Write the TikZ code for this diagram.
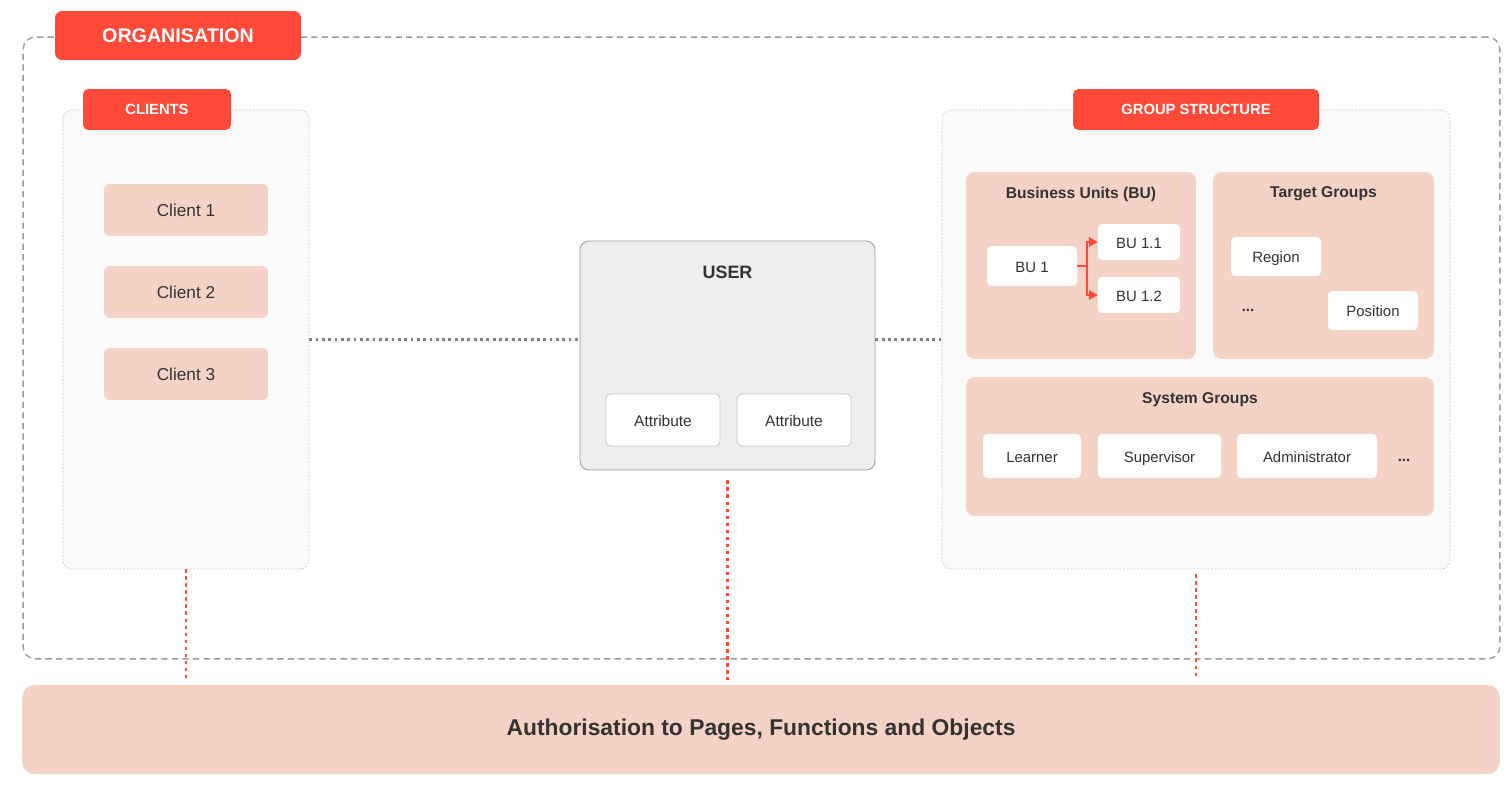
\documentclass[tikz,border=0pt]{standalone}
\usepackage{fontspec}
\setmainfont{Liberation Sans}
\usetikzlibrary{arrows.meta}
\definecolor{orgred}{HTML}{FF4A3A}
\definecolor{blush}{HTML}{F5D2C6}
\definecolor{ink}{HTML}{333333}
\definecolor{userfill}{HTML}{EEEEEE}
\definecolor{panelfill}{HTML}{FAFAFA}
\definecolor{framegray}{HTML}{9A9A9A}
\definecolor{panelgray}{HTML}{C8C8C8}
\definecolor{linkgray}{HTML}{808080}
\tikzset{
  tag/.style={fill=orgred, rounded corners=3pt, text=white, font=\bfseries\fontsize{8.4}{10}\selectfont, minimum height=0.82cm, inner sep=0pt},
  panel/.style={fill=panelfill, draw=panelgray, line width=0.4pt, dash pattern=on 1pt off 1pt, rounded corners=5pt, minimum height=9.18cm, inner sep=0pt},
  subpanel/.style={fill=blush, rounded corners=5pt, inner sep=0pt},
  pinkbox/.style={fill=blush, rounded corners=3pt, text=ink, font=\fontsize{9.8}{12}\selectfont, minimum width=3.28cm, minimum height=1.04cm, inner sep=0pt, text height=1.6ex, text depth=0.3ex},
  whitebox/.style={fill=white, rounded corners=2.5pt, text=ink, font=\fontsize{8.5}{10}\selectfont, inner sep=0pt, text height=1.6ex, text depth=0.3ex},
  title/.style={text=ink, font=\bfseries\fontsize{8.9}{11}\selectfont},
  link/.style={draw=linkgray, line width=1.2pt, dash pattern=on 1.6pt off 2pt},
  redlink/.style={draw=orgred, line width=1.6pt, dash pattern=on 2pt off 2pt},
  buarrow/.style={orgred, line width=1.1pt, -{Triangle[length=5pt,width=5.5pt]}}
}
\begin{document}
\begin{tikzpicture}[x=0.02cm, y=-0.02cm]
\useasboundingbox (0,0) rectangle (1510,787);

\node[draw=framegray, line width=0.8pt, dash pattern=on 3.5pt off 2.5pt, rounded corners=7pt, minimum width=29.54cm, minimum height=12.44cm, inner sep=0pt] (org) at (761.5,348) {};
\node[fill=orgred, rounded corners=4pt, text=white, font=\bfseries\fontsize{11.2}{13}\selectfont, minimum width=4.92cm, minimum height=0.98cm, inner sep=0pt] (orglabel) at (178,35.5) {ORGANISATION};

\node[panel, minimum width=4.92cm] (clients) at (186,339.5) {};
\node[tag, minimum width=2.96cm] (clientstag) at (157,109.5) {CLIENTS};
\node[pinkbox] (client1) at (186,210) {Client 1};
\node[pinkbox] (client2) at (186,292) {Client 2};
\node[pinkbox] (client3) at (186,374) {Client 3};

\node[fill=userfill, draw=framegray, line width=0.5pt, rounded corners=5pt, minimum width=5.9cm, minimum height=4.58cm, inner sep=0pt] (user) at (727.5,355.5) {};
\node[text=ink, font=\bfseries\fontsize{10.2}{12}\selectfont] (usertitle) at (727.5,272) {USER};
\node[whitebox, draw=panelgray, line width=0.5pt, font=\fontsize{8.8}{10}\selectfont, minimum width=2.28cm, minimum height=1.04cm] (attr1) at (663,420) {Attribute};
\node[whitebox, draw=panelgray, line width=0.5pt, font=\fontsize{8.8}{10}\selectfont, minimum width=2.28cm, minimum height=1.04cm] (attr2) at (794,420) {Attribute};

\node[panel, minimum width=10.16cm] (group) at (1196,339.5) {};
\node[tag, minimum width=4.92cm] (grouptag) at (1196,109.5) {GROUP STRUCTURE};

\node[subpanel, minimum width=4.6cm, minimum height=3.74cm] (bu) at (1081,265.5) {};
\node[title] (butitle) at (1081,194) {Business Units (BU)};
\node[whitebox, minimum width=1.8cm, minimum height=0.8cm] (bu1) at (1032,266) {BU 1};
\node[whitebox, minimum width=1.64cm, minimum height=0.72cm] (bu11) at (1139,242) {BU 1.1};
\node[whitebox, minimum width=1.64cm, minimum height=0.72cm] (bu12) at (1139,295) {BU 1.2};
\draw[buarrow] (bu1.east) -- ++(10,0) |- (bu11.west);
\draw[buarrow] (bu1.east) -- ++(10,0) |- (bu12.west);

\node[subpanel, minimum width=4.42cm, minimum height=3.74cm] (target) at (1323.5,265.5) {};
\node[title] (targettitle) at (1323.5,194) {Target Groups};
\node[whitebox, minimum width=1.8cm, minimum height=0.78cm] (region) at (1276,256.5) {Region};
\node[whitebox, minimum width=1.8cm, minimum height=0.78cm] (position) at (1373,310.5) {Position};
\node[text=ink, font=\bfseries\fontsize{8.5}{10}\selectfont] (targetdots) at (1248,310) {...};

\node[subpanel, minimum width=9.36cm, minimum height=2.78cm] (system) at (1200,446.5) {};
\node[title] (systemtitle) at (1200,400) {System Groups};
\node[whitebox, minimum width=1.96cm, minimum height=0.88cm] (learner) at (1032,456) {Learner};
\node[whitebox, minimum width=2.46cm, minimum height=0.88cm] (supervisor) at (1159.5,456) {Supervisor};
\node[whitebox, minimum width=2.8cm, minimum height=0.88cm] (admin) at (1307,456) {Administrator};
\node[text=ink, font=\bfseries\fontsize{8.5}{10}\selectfont] (systemdots) at (1404,460) {...};

\node[fill=blush, rounded corners=7pt, text=ink, font=\bfseries\fontsize{13}{15}\selectfont, minimum width=29.56cm, minimum height=1.78cm, inner sep=0pt] (auth) at (761,729.5) {Authorisation to Pages, Functions and Objects};

\draw[link] (clients.east) -- (clients.east -| user.west);
\draw[link] (user.east |- group.west) -- (group.west);
\draw[redlink, shorten >=0.1cm] (clients.south) -- (clients.south |- auth.north);
\draw[redlink, shorten <=0.2cm, shorten >=0.1cm] (user.south) -- (user.south |- auth.north);
\draw[redlink, shorten <=0.1cm, shorten >=0.18cm] (group.south) -- (group.south |- auth.north);
\end{tikzpicture}
\end{document}
